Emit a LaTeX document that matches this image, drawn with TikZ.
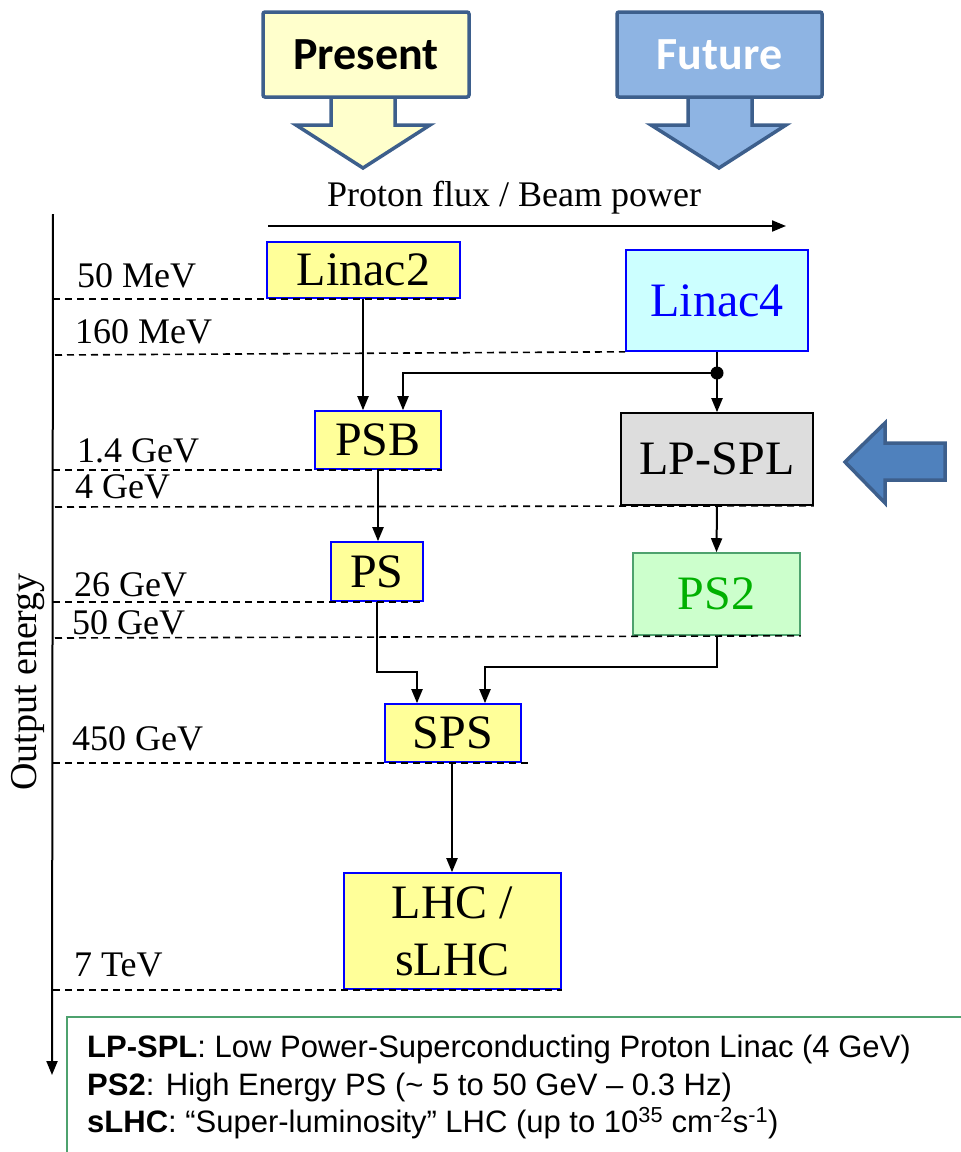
\documentclass[tikz,border=0pt]{standalone}
\usepackage{fontspec}
\setmainfont{Liberation Serif}
\newfontfamily\legendfont{Liberation Sans}
\newfontfamily\calfont{Carlito}
\usetikzlibrary{arrows.meta,positioning,calc}
\definecolor{stageyellow}{HTML}{FFFF99}
\definecolor{presentfill}{HTML}{FFFFCC}
\definecolor{futurefill}{HTML}{8EB4E3}
\definecolor{arrowedge}{HTML}{3D5F8C}
\definecolor{sidefill}{HTML}{4F81BD}
\definecolor{linacfill}{HTML}{CCFFFF}
\definecolor{splfill}{HTML}{DDDDDD}
\definecolor{psfill}{HTML}{CCFFCC}
\definecolor{psedge}{HTML}{4EA26E}
\definecolor{pstext}{HTML}{00B000}
\newcommand{\stagefont}{\fontsize{48}{57}\selectfont}
\newcommand{\elabelfont}{\fontsize{36}{40}\selectfont}

\begin{document}
\begin{tikzpicture}[x=1pt,y=-1pt,
  >={Triangle[length=14pt,width=11pt]},
  every node/.style={inner sep=0pt},
  stage/.style={draw=blue,line width=1.6pt,fill=stageyellow,font=\stagefont},
  lvl/.style={line width=1.6pt,dash pattern=on 7pt off 5pt},
  elabel/.style={anchor=base west,font=\elabelfont},
  flow/.style={->,line width=2pt},
  bigarrow/.style={draw=arrowedge,line width=3.5pt,line join=miter},
  legline/.style={anchor=base west,font=\legendfont\fontsize{31}{36}\selectfont}]
\useasboundingbox (0,0) rectangle (961,1152);

% present / future
\draw[bigarrow,fill=presentfill] (331,97) -- (331,125) -- (296,125) -- (363,168)
  -- (430,125) -- (395,125) -- (395,97) -- cycle;
\node[bigarrow,fill=presentfill,rounded corners=2pt,minimum width=206pt,minimum height=85pt,
  font=\calfont\bfseries\fontsize{46}{50}\selectfont] (present) at (366,54.5) {Present};
\draw[bigarrow,fill=futurefill] (688,97) -- (688,125) -- (651,125) -- (719,168)
  -- (786,125) -- (752,125) -- (752,97) -- cycle;
\node[bigarrow,fill=futurefill,rounded corners=2pt,minimum width=205pt,minimum height=85pt,
  text=white,font=\calfont\bfseries\fontsize{46}{50}\selectfont] (future) at (719.5,54.5) {Future};

\node[anchor=base,font=\fontsize{36}{40}\selectfont] (flux) at (514,206) {Proton flux / Beam power};
\coordinate (fluxL) at (268,226);
\coordinate (fluxR) at (786,226);
\draw[->,line width=2pt] (fluxL) -- (fluxR);

% energy axis
\coordinate (axtop) at (53,214);
\coordinate (axbot) at (52,1075);
\draw[->,line width=2pt] (axtop) -- (axbot);
\node[rotate=90,font=\fontsize{38}{40}\selectfont] (axlabel) at (28,682) {Output energy};

% machines
\node[stage,minimum width=193pt,minimum height=56pt] (linac2) at (363.5,270) {Linac2};
\node[stage,minimum width=126pt,minimum height=58pt] (psb) at (378,440) {PSB};
\node[stage,minimum width=92pt,minimum height=59pt] (ps) at (377,571.5) {PS};
\node[stage,minimum width=136pt,minimum height=58pt] (sps) at (453,733) {SPS};
\node[stage,minimum width=217pt,minimum height=116pt,align=center] (lhc) at (452.5,931) {LHC /\\sLHC};
\node[stage,fill=linacfill,text=blue,minimum width=182pt,minimum height=101pt] (linac4) at (717,300.5) {Linac4};
\node[stage,draw=black,fill=splfill,minimum width=192pt,minimum height=92pt] (lpspl) at (717,459) {LP-SPL};
\node[stage,draw=psedge,fill=psfill,text=pstext,minimum width=167pt,minimum height=82pt] (ps2) at (716.5,594) {PS2};

% energy levels
\node[elabel] (e50m) at (77,287) {50 MeV};
\node[elabel] (e160m) at (75,343) {160 MeV};
\node[elabel] (e1g) at (77,462) {1.4 GeV};
\node[elabel] (e4g) at (75,498) {4 GeV};
\node[elabel] (e26g) at (74,596) {26 GeV};
\node[elabel] (e50g) at (72,634) {50 GeV};
\node[elabel] (e450g) at (72,750) {450 GeV};
\node[elabel] (e7t) at (74,976) {7 TeV};
\draw[lvl] (axtop |- linac2.south) -- (linac2.south east);
\draw[lvl] (55,355) -- (linac4.south west);
\draw[lvl] (axtop |- psb.south) -- (psb.south east);
\draw[lvl] (55,507) -- (lpspl.south east);
\draw[lvl] (axtop |- ps.south) -- (ps.south east);
\draw[lvl] (55,638) -- (ps2.south east);
\draw[lvl] (axtop |- sps.south) -- ([xshift=7pt]sps.south east);
\draw[lvl] (axtop |- lhc.south) -- (lhc.south east);

% beam transfers
\coordinate (split) at (717,373);
\draw[line width=2pt] (linac4.south) -- (split);
\draw[flow] (split) -- (lpspl.north);
\draw[flow] (split) -| ([xshift=25pt]psb.north);
\fill (split) circle (6.5);
\draw[flow] (linac2.south -| 363,0) -- (363,0 |- psb.north);
\draw[flow] (psb.south) -- (psb.south |- ps.north);
\draw[flow] (lpspl.south) -- (ps2.north);
\draw[flow] (ps.south) -- (ps.south |- 0,672) -| ([xshift=-36pt]sps.north);
\draw[flow] (ps2.south) -- (ps2.south |- 0,667) -| ([xshift=32pt]sps.north);
\draw[flow] (sps.south -| 452,0) -- (lhc.north -| 452,0);

% upgrade marker
\draw[bigarrow,draw=arrowedge,fill=sidefill] (845,462) -- (885,423) -- (885,443) -- (945,443)
  -- (945,480) -- (885,480) -- (885,503) -- cycle;

% legend
\draw[draw=psedge,line width=2.5pt] (67,1165) -- (67,1017) -- (975,1017);
\node[legline] (leg1) at (87,1057) {\textbf{LP-SPL}: Low Power-Superconducting Proton Linac (4 GeV)};
\node[legline] (leg2) at (87,1095) {\textbf{PS2}: High Energy PS (\textasciitilde{} 5 to 50 GeV \textendash{} 0.3 Hz)};
\node[legline] (leg3) at (87,1132) {\textbf{sLHC}: “Super-luminosity” LHC (up to 10\textsuperscript{35} cm\textsuperscript{-2}s\textsuperscript{-1})};
\end{tikzpicture}
\end{document}
